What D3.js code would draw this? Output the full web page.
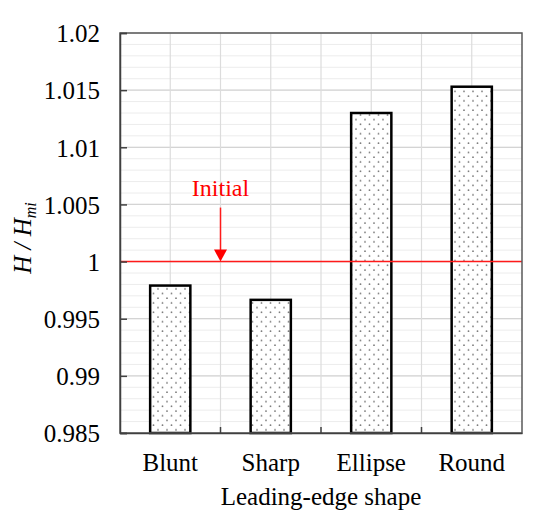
<!DOCTYPE html>
<html>
<head>
<meta charset="utf-8">
<script src="https://cdn.jsdelivr.net/npm/d3@7"></script>
<style>
  body { margin: 0; background: #fff; }
</style>
</head>
<body>
<div id="chart"></div>
<script>
const shapes = ["Blunt", "Sharp", "Ellipse", "Round"];
const ratios = [0.9979, 0.99665, 1.0130, 1.0153];
const yTicks = [0.985, 0.99, 0.995, 1, 1.005, 1.01, 1.015, 1.02];
const initialValue = 1;

const serif = "'Liberation Serif'";

const width = 550, height = 526;
const margin = {top: 33, right: 28, bottom: 93, left: 120};
const innerW = width - margin.left - margin.right;
const innerH = height - margin.top - margin.bottom;

const svg = d3.select("#chart").append("svg")
    .attr("width", width)
    .attr("height", height)
    .attr("font-family", serif);

// dotted fill like the excel 5% pattern
const defs = svg.append("defs");
const pat = defs.append("pattern")
    .attr("id", "dots")
    .attr("patternUnits", "userSpaceOnUse")
    .attr("width", 9)
    .attr("height", 9.4);
pat.append("rect").attr("width", 9).attr("height", 9.4).attr("fill", "#fff");
pat.append("circle").attr("cx", 2).attr("cy", 2).attr("r", 0.9).attr("fill", "#777");
pat.append("circle").attr("cx", 6.5).attr("cy", 6.7).attr("r", 0.9).attr("fill", "#777");

const g = svg.append("g")
    .attr("transform", "translate(" + margin.left + "," + margin.top + ")");

const x = d3.scaleBand()
    .domain(shapes)
    .range([0, innerW])
    .paddingInner(0.6)
    .paddingOuter(0.3);

const y = d3.scaleLinear()
    .domain([0.985, 1.02])
    .range([innerH, 0]);

// minor grid every 0.001
const minor = d3.range(0, 36).map(i => 0.985 + i * 0.001);
g.append("g").selectAll("line")
    .data(minor)
    .enter().append("line")
    .attr("x1", 0).attr("x2", innerW)
    .attr("y1", d => y(d)).attr("y2", d => y(d))
    .attr("stroke", "#ececec")
    .attr("stroke-width", 1);

// major grid
g.append("g").selectAll("line")
    .data(yTicks)
    .enter().append("line")
    .attr("x1", 0).attr("x2", innerW)
    .attr("y1", d => y(d)).attr("y2", d => y(d))
    .attr("stroke", "#d4d4d4")
    .attr("stroke-width", 1.2);

// vertical grid at category centres and boundaries
const step = innerW / shapes.length;
const vlines = d3.range(1, shapes.length * 2).map(i => i * step / 2);
g.append("g").selectAll("line")
    .data(vlines)
    .enter().append("line")
    .attr("x1", d => d).attr("x2", d => d)
    .attr("y1", 0).attr("y2", innerH)
    .attr("stroke", "#dcdcdc")
    .attr("stroke-width", 1.2);

// bars
g.append("g").selectAll("rect")
    .data(shapes)
    .enter().append("rect")
    .attr("x", d => x(d))
    .attr("width", x.bandwidth())
    .attr("y", (d, i) => y(ratios[i]))
    .attr("height", (d, i) => innerH - y(ratios[i]))
    .attr("fill", "url(#dots)")
    .attr("stroke", "#000")
    .attr("stroke-width", 2.5);

// reference line
g.append("line")
    .attr("x1", 0).attr("x2", innerW)
    .attr("y1", y(initialValue)).attr("y2", y(initialValue))
    .attr("stroke", "#ff1a1a")
    .attr("stroke-width", 1.5);

// arrow + label
const ax = step;
const ay = y(initialValue);
g.append("line")
    .attr("x1", ax).attr("x2", ax)
    .attr("y1", ay - 54).attr("y2", ay - 10)
    .attr("stroke", "#ff1a1a")
    .attr("stroke-width", 1.5);
g.append("path")
    .attr("d", "M" + (ax - 6.5) + "," + (ay - 12) + "L" + (ax + 6.5) + "," + (ay - 12) + "L" + ax + "," + ay + "Z")
    .attr("fill", "#ff0000");
g.append("text")
    .attr("x", ax)
    .attr("y", ay - 66)
    .attr("text-anchor", "middle")
    .attr("fill", "#ff0000")
    .attr("font-family", serif)
    .attr("font-size", 24)
    .text("Initial");

// frame
g.append("rect")
    .attr("width", innerW).attr("height", innerH)
    .attr("fill", "none")
    .attr("stroke", "#595959")
    .attr("stroke-width", 1.5);

// y axis, ticks inward
const yAxis = g.append("g")
    .call(d3.axisLeft(y).tickValues(yTicks).tickSize(-7).tickPadding(20)
        .tickFormat(d => d3.format("")(+d.toFixed(3))));
yAxis.attr("font-family", serif);
yAxis.select(".domain").attr("stroke", "#404040").attr("stroke-width", 1.5);
yAxis.selectAll(".tick line").attr("stroke", "#404040").attr("stroke-width", 1.5);
yAxis.selectAll("text")
    .attr("font-family", serif)
    .attr("font-size", 25)
    .attr("fill", "#000")
    .attr("dy", "0.35em");

// x axis, ticks at category boundaries
const xAxis = g.append("g")
    .attr("transform", "translate(0," + innerH + ")")
    .call(d3.axisBottom(x).tickSize(0).tickPadding(20));
xAxis.attr("font-family", serif);
xAxis.select(".domain").attr("stroke", "#404040").attr("stroke-width", 1.5);
xAxis.selectAll("text")
    .attr("font-family", serif)
    .attr("font-size", 25)
    .attr("fill", "#000");
xAxis.selectAll(".bnd")
    .data(d3.range(1, shapes.length))
    .enter().append("line")
    .attr("class", "bnd")
    .attr("x1", d => d * step).attr("x2", d => d * step)
    .attr("y1", 0).attr("y2", -6)
    .attr("stroke", "#404040")
    .attr("stroke-width", 1.5);

// axis titles
svg.append("text")
    .attr("x", margin.left + innerW / 2)
    .attr("y", 505)
    .attr("text-anchor", "middle")
    .attr("font-family", serif)
    .attr("font-size", 25)
    .text("Leading-edge shape");

const yt = svg.append("text")
    .attr("transform", "translate(31," + (margin.top + innerH / 2 + 5) + ") rotate(-90)")
    .attr("text-anchor", "middle")
    .attr("font-family", serif)
    .attr("font-size", 25)
    .attr("font-style", "italic");
yt.append("tspan").text("H / H");
yt.append("tspan").attr("font-size", 16).attr("dy", 5).text("mi");
</script>
</body>
</html>
